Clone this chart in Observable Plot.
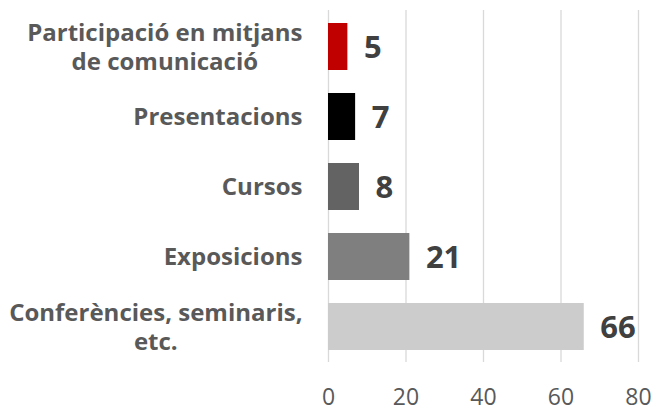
<!DOCTYPE html>
<html>
<head>
<meta charset="utf-8">
<script src="https://cdn.jsdelivr.net/npm/d3@7"></script>
<script src="https://cdn.jsdelivr.net/npm/@observablehq/plot@0.6"></script>
<style>
  html, body { margin: 0; padding: 0; background: #fff; }
  #chart svg { display: block; }
</style>
</head>
<body>
<div id="chart"></div>
<script>
const categories = [
  "Participació en mitjans\nde comunicació",
  "Presentacions",
  "Cursos",
  "Exposicions",
  "Conferències, seminaris,\netc."
];
const values = [5, 7, 8, 21, 66];
const barColors = ["#C00000", "#000000", "#636363", "#7F7F7F", "#CCCCCC"];
const xTicks = [0, 20, 40, 60, 80];

const data = categories.map((c, i) => ({category: c, value: values[i]}));

const labelSize = 24;
const canvas = document.createElement("canvas");
const ctx = canvas.getContext("2d");
ctx.font = `bold ${labelSize}px 'Open Sans'`;
const labelGap = 26;

const singleLine = data.filter(d => !d.category.includes("\n"));
const multiLine = data.filter(d => d.category.includes("\n"));

const labelMarks = [
  Plot.text(singleLine, {
    x: 0, y: "category", text: "category",
    textAnchor: "end", dx: -labelGap,
    fontFamily: "Open Sans", fontWeight: "bold", fontSize: labelSize, fill: "#595959"
  }),
  ...multiLine.map(d => {
    const w = Math.max(...d.category.split("\n").map(s => ctx.measureText(s).width));
    return Plot.text([d], {
      x: 0, y: "category", text: "category",
      textAnchor: "middle", dx: -labelGap - w / 2, dy: -1,
      lineHeight: 1.23,
      fontFamily: "Open Sans", fontWeight: "bold", fontSize: labelSize, fill: "#595959"
    });
  })
];

const chart = Plot.plot({
  width: 653,
  height: 406,
  marginLeft: 328,
  marginRight: 15,
  marginTop: 10,
  marginBottom: 44,
  style: {fontFamily: "Open Sans", background: "#fff"},
  x: {domain: [0, 80], ticks: xTicks},
  y: {domain: categories, paddingInner: 0.33, paddingOuter: 0.165, axis: null},
  color: {domain: categories, range: barColors},
  marks: [
    Plot.ruleX(xTicks, {stroke: "#D9D9D9", strokeWidth: 1.3}),
    Plot.barX(data, {x: "value", y: "category", fill: "category"}),
    Plot.text(data, {
      x: "value", y: "category", text: d => String(d.value),
      textAnchor: "start", dx: 16, dy: 1,
      fontFamily: "Open Sans", fontWeight: "bold", fontSize: 31, fill: "#404040"
    }),
    ...labelMarks,
    Plot.axisX({
      ticks: xTicks, tickSize: 0, tickPadding: 26,
      fontSize: 23, fill: "#595959", label: null, fontFamily: "Open Sans"
    })
  ]
});
document.getElementById("chart").appendChild(chart);
</script>
</body>
</html>
